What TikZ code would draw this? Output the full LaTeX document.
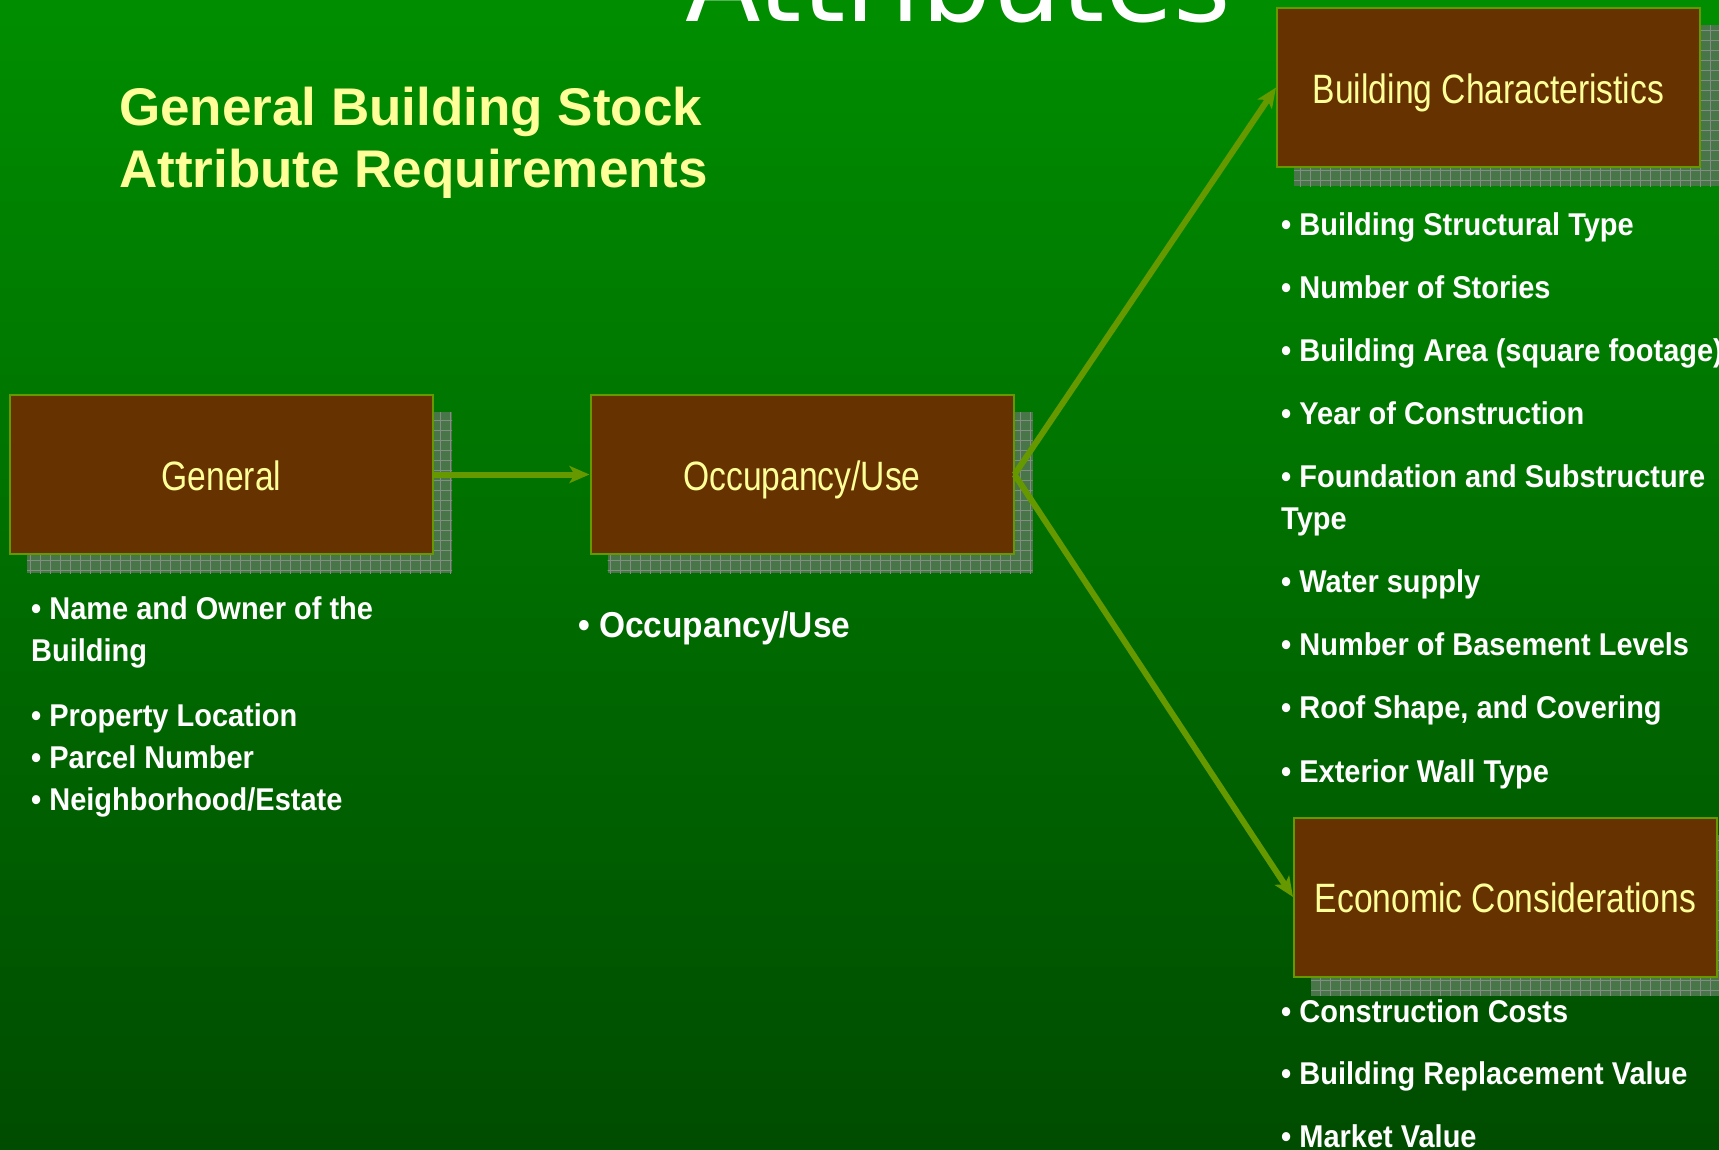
\documentclass[tikz,border=0pt]{standalone}
\usepackage{fontspec}
\setmainfont{Liberation Sans}
\newfontfamily\boxfont[FakeStretch=0.82]{Liberation Sans}
\newfontfamily\listfont[FakeStretch=0.92]{Liberation Sans}
\newfontfamily\occfont[FakeStretch=0.93]{Liberation Sans}
\newfontfamily\headfont{Liberation Sans}
\newfontfamily\topfont{DejaVu Sans}
\usetikzlibrary{arrows.meta,calc}

\definecolor{bgtop}{RGB}{0,142,0}
\definecolor{bgbot}{RGB}{0,76,0}
\definecolor{boxbrown}{RGB}{102,51,0}
\definecolor{olive}{RGB}{102,153,0}
\definecolor{paleyellow}{RGB}{255,255,153}
\definecolor{shadowfill}{RGB}{72,118,72}
\definecolor{shadowline}{RGB}{130,140,130}

\pgfdeclarelayer{back}
\pgfdeclarelayer{shadows}
\pgfsetlayers{back,shadows,main}

\tikzset{
  box/.style={draw=olive, line width=2pt, fill=boxbrown, text=paleyellow,
    minimum width=423pt, minimum height=159pt, inner sep=0pt,
    text height=36pt, text depth=5pt,
    font=\boxfont\fontsize{41}{48}\selectfont},
  link/.style={draw=olive, line width=6pt,
    -{Stealth[length=20pt,width=17pt,inset=5pt]}},
  bullets/.style={text=white, align=left, inner sep=0pt, anchor=base west,
    font=\listfont\bfseries\fontsize{31.5}{41.8}\selectfont},
  heading/.style={text=paleyellow, align=left, inner sep=0pt, anchor=base west,
    font=\headfont\bfseries\fontsize{53}{62.5}\selectfont},
}

% grey-green drop shadow with a fine grid, offset below right of a box
\newcommand\gridshadow[1]{%
  \begin{scope}
    \fill[shadowfill] ($(#1.north west)+(18,18)$) rectangle ($(#1.south east)+(18,18)$);
    \clip ($(#1.north west)+(18,18)$) rectangle ($(#1.south east)+(18,18)$);
    \draw[shadowline, line width=0.8pt] ($(#1.north west)+(8,8)$) grid[step=10pt] ($(#1.south east)+(28,28)$);
  \end{scope}}

\begin{document}
\begin{tikzpicture}[x=1pt, y=-1pt]
  \useasboundingbox (0,0) rectangle (1719,1149);
  \begin{pgfonlayer}{back}
    \shade[top color=bgtop, bottom color=bgbot] (0,0) rectangle (1719,1149);
  \end{pgfonlayer}

  % slide title, running off the top edge
  \node[text=white, inner sep=0pt, anchor=base west,
        font=\topfont\fontsize{110.5}{120}\selectfont] (toptitle) at (685,21) {Attributes};

  % multi-line nodes below are placed by the baseline of their last line
  \node[heading] (heading) at (119,187.5) {General Building Stock\\Attribute Requirements};

  % boxes
  \node[box] (gen) at (221.5,474.5) {General};
  \node[box] (occ) at (802,474.5) {Occupancy/Use};
  \node[box] (bch) at (1488.5,87.5) {Building Characteristics};
  \node[box] (eco) at (1505.5,897) {Economic Considerations};

  \begin{pgfonlayer}{shadows}
    \gridshadow{gen}
    \gridshadow{occ}
    \gridshadow{bch}
    \gridshadow{eco}
  \end{pgfonlayer}

  % connectors
  \draw[link] (gen.east) -- (occ.west);
  \draw[link] (occ.east) -- (bch.west);
  \draw[link] (occ.east) -- (eco.west);

  % attribute lists
  \node[bullets] (genlist) at (31,810)
    {• Name and Owner of the\\Building\\[23pt]• Property Location\\• Parcel Number\\• Neighborhood/Estate};

  \node[bullets, font=\occfont\bfseries\fontsize{36}{44}\selectfont] (occlist) at (578,637)
    {• Occupancy/Use};

  \node[bullets] (bchlist) at (1281,782)
    {• Building Structural Type\\[21.3pt]• Number of Stories\\[21.3pt]• Building Area (square footage)\\[21.3pt]%
     • Year of Construction\\[21.3pt]• Foundation and Substructure\\Type\\[21.3pt]• Water supply\\[21.3pt]%
     • Number of Basement Levels\\[21.3pt]• Roof Shape, and Covering\\[21.3pt]• Exterior Wall Type};

  \node[bullets] (ecolist) at (1281,1147)
    {• Construction Costs\\[20.5pt]• Building Replacement Value\\[20.5pt]• Market Value};
\end{tikzpicture}
\end{document}
